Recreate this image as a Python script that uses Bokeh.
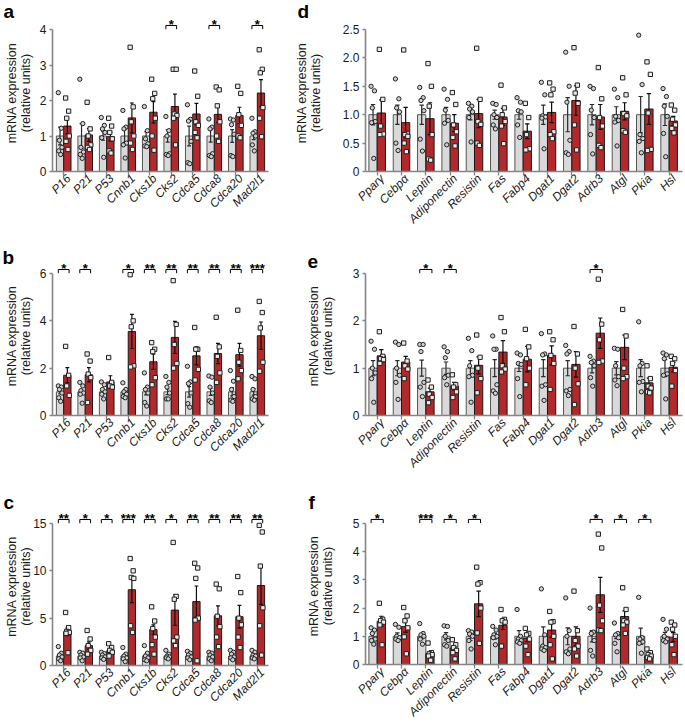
import math
from bokeh.plotting import figure
from bokeh.layouts import row, column
from bokeh.models import FixedTicker, Range1d, LinearAxis
from bokeh.core.properties import value
from bokeh.embed import file_html
from bokeh.resources import INLINE

FONT = "Liberation Sans"
GRAY_FILL = "#d9d9d9"
GRAY_LINE = "#555555"
RED_FILL = "#b3292b"
RED_LINE = "#1a1a1a"
AXIS_COL = "#858585"
TXT = "#1a1a1a"

# ---------------- data ----------------
cell_genes = ["P16", "P21", "P53", "Cnnb1", "Cks1b", "Cks2", "Cdca5", "Cdca8", "Cdca20", "Mad2l1"]
fat_genes = ["Pparγ", "Cebpα", "Leptin", "Adiponectin", "Resistin", "Fas", "Fabp4",
             "Dgat1", "Dgat2", "Adrb3", "Atgl", "Pkia", "Hsl"]

# panel a
a_yticks = [0, 1, 2, 3, 4]
a_ylabels = ["0", "1", "2", "3", "4"]
a_ctrl_mean = [1.00, 1.00, 1.00, 1.00, 1.00, 1.00, 1.00, 1.00, 1.00, 1.00]
a_ctrl_sem = [0.25, 0.35, 0.12, 0.18, 0.12, 0.17, 0.28, 0.17, 0.18, 0.10]
a_trt_mean = [1.28, 1.03, 0.98, 1.51, 1.67, 1.83, 1.62, 1.61, 1.58, 2.21]
a_trt_sem = [0.22, 0.18, 0.12, 0.42, 0.30, 0.35, 0.30, 0.23, 0.23, 0.38]
a_ctrl_pts = [[2.22, 1.22, 0.88, 0.68, 0.58, 0.48], [2.60, 1.35, 0.68, 0.55, 0.48, 0.37],
              [1.52, 1.30, 1.20, 1.10, 0.95, 0.40], [1.72, 1.25, 1.20, 0.80, 0.75, 0.38],
              [1.83, 1.15, 0.92, 0.78, 0.72, 0.70], [1.55, 1.15, 1.00, 0.50, 0.48, 0.45],
              [1.88, 1.47, 1.42, 0.85, 0.25, 0.22], [1.48, 1.25, 1.20, 0.50, 0.45, 0.42],
              [1.48, 1.45, 1.32, 1.05, 0.45, 0.42], [1.50, 1.12, 1.08, 1.00, 0.75, 0.58]]
a_trt_pts = [[2.07, 1.70, 1.50, 1.00, 0.85, 0.62], [1.95, 1.20, 1.00, 0.75, 0.68, 0.62],
             [1.50, 1.28, 1.10, 0.92, 0.58, 0.52], [3.50, 1.82, 1.40, 1.00, 0.80, 0.62],
             [2.60, 2.20, 2.05, 1.50, 1.00, 0.60], [2.88, 2.88, 1.62, 1.58, 1.50, 0.75],
             [2.83, 2.12, 1.40, 1.30, 1.10, 0.95], [2.38, 2.30, 1.85, 1.40, 1.00, 0.85],
             [2.40, 2.20, 1.60, 1.30, 1.00, 0.95], [3.43, 2.88, 2.78, 1.80, 1.50, 0.98]]
a_stars = ["", "", "", "", "", "*", "", "*", "", "*"]

# panel b
b_yticks = [0, 2, 4, 6]
b_ylabels = ["0", "2", "4", "6"]
b_ctrl_mean = [1.00, 1.00, 1.00, 1.00, 1.00, 1.00, 1.00, 1.00, 1.00, 1.00]
b_ctrl_sem = [0.08, 0.07, 0.06, 0.06, 0.13, 0.12, 0.22, 0.15, 0.17, 0.14]
b_trt_mean = [1.70, 1.72, 1.42, 3.55, 2.27, 3.30, 2.52, 2.62, 2.57, 3.37]
b_trt_sem = [0.32, 0.30, 0.26, 0.72, 0.32, 0.68, 0.38, 0.43, 0.48, 0.58]
b_ctrl_pts = [[1.25, 1.20, 1.10, 0.95, 0.75, 0.60], [1.40, 1.25, 1.05, 0.95, 0.90, 0.52],
              [1.42, 1.30, 1.10, 1.00, 0.90, 0.70], [1.38, 1.10, 1.00, 0.90, 0.80, 0.75],
              [1.80, 1.20, 1.10, 0.95, 0.55, 0.40], [1.65, 1.40, 1.20, 0.95, 0.70, 0.70],
              [2.08, 1.42, 1.35, 0.95, 0.50, 0.35], [1.67, 1.62, 1.20, 0.95, 0.62, 0.55],
              [1.90, 1.45, 1.10, 0.80, 0.65, 0.60], [1.65, 1.55, 1.10, 0.80, 0.70, 0.65]]
b_trt_pts = [[2.92, 1.70, 1.25, 0.85], [2.60, 2.30, 1.75, 1.60, 0.55],
             [2.45, 1.40, 1.25, 1.20], [5.95, 4.00, 3.75, 2.10, 2.05],
             [3.08, 2.80, 2.70, 1.60, 1.30], [5.70, 3.85, 3.00, 2.20, 2.00],
             [3.72, 2.80, 2.80, 1.95, 1.50], [4.15, 2.90, 2.50, 1.80, 1.40],
             [4.45, 2.75, 2.25, 1.90, 1.55], [4.82, 4.35, 3.70, 2.25, 1.87]]
b_stars = ["*", "*", "", "*", "**", "**", "**", "**", "**", "***"]

# panel c
c_yticks = [0, 5, 10, 15]
c_ylabels = ["0", "5", "10", "15"]
c_ctrl_mean = [1.00, 1.00, 1.00, 1.00, 1.00, 1.00, 1.00, 1.00, 1.00, 1.00]
c_ctrl_sem = [0.15, 0.12, 0.10, 0.15, 0.18, 0.10, 0.12, 0.12, 0.12, 0.10]
c_trt_mean = [3.55, 2.10, 1.55, 8.00, 3.80, 5.85, 6.75, 5.25, 5.15, 8.45]
c_trt_sem = [0.40, 0.40, 0.25, 1.35, 0.50, 1.60, 1.65, 1.05, 1.20, 2.00]
c_ctrl_pts = [[2.00, 1.30, 1.10, 0.90, 0.70, 0.50], [1.40, 1.30, 1.10, 0.90, 0.80, 0.50],
              [1.40, 1.25, 1.10, 0.90, 0.80, 0.65], [1.90, 1.20, 1.00, 0.80, 0.70, 0.40],
              [2.10, 1.30, 1.00, 0.80, 0.60, 0.50], [1.60, 1.20, 1.00, 0.90, 0.80, 0.70],
              [1.50, 1.30, 1.10, 0.90, 0.80, 0.60], [1.40, 1.30, 1.10, 0.90, 0.70, 0.50],
              [1.60, 1.40, 1.20, 0.90, 0.80, 0.60], [1.60, 1.40, 1.10, 1.00, 0.80, 0.70]]
c_trt_pts = [[5.60, 4.00, 3.60, 3.50, 3.40, 1.35], [3.70, 2.80, 2.10, 1.60, 1.20],
             [2.30, 1.90, 1.60, 1.40, 1.00], [11.30, 10.00, 9.30, 9.20, 4.20, 3.50],
             [6.20, 4.70, 3.90, 3.00, 2.20, 1.20], [13.00, 7.30, 7.00, 3.00, 2.60, 2.10],
             [10.80, 10.30, 9.20, 5.00, 4.80, 0.50], [8.60, 8.10, 5.20, 4.10, 3.00, 2.00],
             [9.40, 7.70, 5.00, 4.30, 3.00, 1.90], [14.80, 14.10, 10.50, 6.10, 4.20, 1.10]]
c_stars = ["**", "*", "*", "***", "**", "*", "**", "**", "**", "**"]

# panel d
d_yticks = [0, 0.5, 1.0, 1.5, 2.0, 2.5]
d_ylabels = ["0", "0.5", "1.0", "1.5", "2.0", "2.5"]
d_ctrl_mean = [1.00] * 13
d_ctrl_sem = [0.18, 0.17, 0.17, 0.13, 0.09, 0.08, 0.08, 0.17, 0.30, 0.18, 0.14, 0.32, 0.19]
d_trt_mean = [1.03, 0.86, 0.93, 0.85, 1.02, 0.96, 0.71, 1.04, 1.25, 0.96, 1.06, 1.10, 0.89]
d_trt_sem = [0.23, 0.27, 0.28, 0.15, 0.25, 0.15, 0.13, 0.18, 0.26, 0.22, 0.15, 0.27, 0.08]
d_ctrl_pts = [[1.50, 1.42, 1.12, 0.88, 0.86, 0.23], [1.63, 1.28, 1.12, 1.05, 0.50, 0.37],
              [1.48, 1.30, 1.25, 1.07, 0.57, 0.36], [1.45, 1.27, 1.08, 0.90, 0.85, 0.47],
              [1.20, 1.15, 1.10, 1.05, 0.95, 0.52], [1.20, 1.18, 1.00, 0.95, 0.82, 0.75],
              [1.30, 1.22, 1.07, 1.05, 0.82, 0.60], [1.57, 1.35, 0.98, 0.96, 0.94, 0.40],
              [2.10, 1.50, 1.22, 0.55, 0.33, 0.30], [1.50, 1.46, 1.08, 0.95, 0.65, 0.31],
              [1.45, 1.30, 0.97, 0.90, 0.87, 0.45], [2.40, 1.53, 0.65, 0.58, 0.53, 0.33],
              [1.46, 1.32, 1.15, 0.97, 0.67, 0.26]]
d_trt_pts = [[2.15, 1.27, 0.80, 0.66, 0.65], [2.14, 0.67, 0.65, 0.62, 0.50, 0.35],
             [1.90, 1.50, 1.15, 0.65, 0.22, 0.20], [1.39, 1.18, 0.82, 0.70, 0.60, 0.45],
             [2.17, 1.27, 0.88, 0.83, 0.50, 0.46], [1.52, 1.12, 1.00, 0.88, 0.80, 0.49],
             [1.20, 0.95, 0.65, 0.40, 0.38], [1.56, 1.45, 1.35, 0.70, 0.65, 0.58],
             [2.18, 1.52, 1.38, 1.20, 0.82, 0.38], [1.83, 1.28, 0.95, 0.80, 0.46, 0.42],
             [1.65, 1.35, 1.02, 0.98, 0.72, 0.69], [1.93, 1.71, 1.03, 0.39, 0.37],
             [1.17, 1.08, 0.92, 0.82, 0.76, 0.68]]
d_stars = [""] * 13

# panel e
e_yticks = [0, 1, 2, 3]
e_ylabels = ["0", "1", "2", "3"]
e_ctrl_mean = [1.00] * 13
e_ctrl_sem = [0.16, 0.16, 0.17, 0.13, 0.16, 0.18, 0.07, 0.18, 0.16, 0.10, 0.14, 0.18, 0.18]
e_trt_mean = [1.26, 1.13, 0.50, 0.62, 1.06, 1.34, 1.19, 1.27, 1.08, 1.74, 1.44, 0.69, 1.02]
e_trt_sem = [0.13, 0.12, 0.08, 0.08, 0.18, 0.24, 0.27, 0.20, 0.27, 0.32, 0.26, 0.10, 0.10]
e_ctrl_pts = [[1.57, 1.40, 1.00, 0.90, 0.78, 0.28], [1.55, 1.50, 1.00, 0.85, 0.70, 0.34],
              [1.50, 1.50, 1.35, 0.70, 0.60, 0.40], [1.45, 1.35, 1.22, 0.85, 0.80, 0.65],
              [1.63, 1.37, 1.05, 0.85, 0.82, 0.28], [1.68, 1.40, 1.40, 0.65, 0.52, 0.47],
              [1.32, 1.28, 1.10, 1.08, 0.78, 0.40], [1.73, 1.30, 1.28, 0.65, 0.62, 0.32],
              [1.48, 1.35, 1.30, 0.55, 0.52, 0.42], [1.25, 1.15, 1.12, 1.05, 0.80, 0.62],
              [1.42, 1.40, 1.05, 0.82, 0.75, 0.63], [1.98, 1.10, 1.05, 0.72, 0.70, 0.50],
              [1.32, 1.28, 1.20, 0.88, 0.85, 0.35]]
e_trt_pts = [[1.77, 1.25, 1.20, 1.18, 1.10], [1.53, 1.15, 1.05, 0.98, 0.78],
             [0.75, 0.60, 0.45, 0.38, 0.27], [0.86, 0.65, 0.60, 0.50, 0.38],
             [1.70, 1.23, 1.00, 0.78, 0.48], [2.07, 1.77, 1.05, 0.98, 0.92],
             [1.82, 1.45, 1.20, 1.00, 0.65], [1.77, 1.60, 1.27, 1.10, 0.55],
             [1.88, 1.30, 1.00, 0.67, 0.23], [2.88, 1.93, 1.60, 1.15, 1.12],
             [2.24, 1.68, 1.00, 0.82, 0.78], [1.05, 0.78, 0.62, 0.58, 0.50, 0.48],
             [1.25, 1.20, 1.10, 0.95, 0.62]]
e_stars = ["", "", "*", "*", "", "", "", "", "", "*", "", "", ""]

# panel f
f_yticks = [0, 1, 2, 3, 4, 5]
f_ylabels = ["0", "1", "2", "3", "4", "5"]
f_ctrl_mean = [1.00] * 13
f_ctrl_sem = [0.10, 0.12, 0.08, 0.13, 0.15, 0.10, 0.20, 0.33, 0.30, 0.20, 0.08, 0.29, 0.14]
f_trt_mean = [1.53, 1.35, 0.38, 0.58, 2.15, 1.39, 0.93, 1.22, 1.00, 2.47, 1.70, 0.30, 0.97]
f_trt_sem = [0.18, 0.20, 0.05, 0.07, 0.45, 0.15, 0.12, 0.25, 0.33, 0.62, 0.20, 0.05, 0.16]
f_ctrl_pts = [[1.30, 1.22, 1.10, 0.90, 0.85, 0.72], [1.42, 1.32, 1.00, 0.95, 0.90, 0.85],
              [1.45, 1.10, 1.05, 1.00, 0.90, 0.72], [1.37, 1.35, 1.00, 0.85, 0.70, 0.65],
              [1.20, 1.15, 1.08, 1.00, 0.85, 0.55], [1.35, 1.22, 1.05, 1.00, 0.95, 0.70],
              [1.95, 1.00, 0.90, 0.85, 0.80, 0.75], [2.68, 1.05, 0.65, 0.60, 0.55, 0.50],
              [2.36, 1.20, 1.00, 0.55, 0.45, 0.38], [2.00, 1.15, 1.10, 0.85, 0.50, 0.30],
              [1.47, 1.10, 1.05, 0.95, 0.75, 0.45], [2.38, 0.95, 0.90, 0.80, 0.75, 0.40],
              [1.60, 1.25, 1.00, 0.90, 0.85, 0.80]]
f_trt_pts = [[2.17, 1.60, 1.55, 1.50, 1.40, 0.70], [2.02, 1.72, 1.55, 1.30, 0.98, 0.38],
             [0.76, 0.42, 0.38, 0.35, 0.30, 0.15], [0.88, 0.70, 0.60, 0.50, 0.42, 0.20],
             [3.45, 2.90, 2.85, 2.00, 1.12, 0.75], [1.95, 1.60, 1.55, 1.50, 0.65],
             [1.28, 1.10, 1.05, 0.90, 0.65, 0.35], [1.88, 1.52, 1.50, 1.00, 0.70, 0.20],
             [2.60, 1.20, 0.85, 0.65, 0.55, 0.30], [4.62, 4.13, 2.10, 1.55, 1.22, 1.20],
             [2.72, 1.95, 1.55, 1.50, 1.40, 1.10], [0.55, 0.42, 0.35, 0.30, 0.25, 0.20],
             [1.50, 1.40, 1.25, 1.00, 0.70, 0.35]]
f_stars = ["*", "", "***", "*", "*", "", "", "", "", "*", "*", "*", ""]

# ---------------- drawing ----------------
AXIS_PX = 142          # pixel height of the drawn y axis (0 .. top tick)
HALF = 0.17            # half distance between bar centres
BW = 0.34              # bar width
CAP = 0.09             # error-bar cap half width
LABEL_SHIFT_PX = 5     # gene labels sit a little right of their tick
JIT = [-0.08, 0.06, -0.03, 0.09, -0.06, 0.03, 0.0]


def build(letter, genes, cmean, csem, cpts, tmean, tsem, tpts, stars, yticks, ylabels,
          width, bl, br, xr, rowg, ylab_standoff, letter_off):
    fig_top, fig_bot, frame_top, zero_y, letter_so = rowg
    height = fig_bot - fig_top
    bt = frame_top - fig_top
    bb = fig_bot - zero_y
    n = len(genes)
    top = yticks[-1]
    ppu = AXIS_PX / top
    xppu = (width - bl - br) / (xr[1] - xr[0])
    p = figure(width=width, height=height, output_backend="svg", toolbar_location=None,
               x_range=Range1d(*xr), y_range=Range1d(0, (zero_y - frame_top) / ppu),
               min_border_left=bl, min_border_right=br, min_border_top=bt, min_border_bottom=bb)
    p.outline_line_color = None
    p.grid.visible = False
    p.background_fill_color = "white"
    p.border_fill_color = "white"

    # panel letter as the figure title
    p.title.text = letter
    p.title.align = "left"
    p.title.vertical_align = "bottom"
    p.title.offset = letter_off
    p.title.standoff = letter_so
    p.title.text_font = FONT
    p.title.text_font_size = "19px"
    p.title.text_font_style = "bold"
    p.title.text_color = "black"

    idx = list(range(n))
    xc = [i - HALF for i in idx]
    xt = [i + HALF for i in idx]
    p.vbar(x=xc, top=cmean, width=BW, bottom=0, fill_color=GRAY_FILL,
           line_color=GRAY_LINE, line_width=1)
    p.vbar(x=xt, top=tmean, width=BW, bottom=0, fill_color=RED_FILL,
           line_color=RED_LINE, line_width=1)

    for xs, m, s, col in ((xc, cmean, csem, "#2a2a2a"), (xt, tmean, tsem, "#0d0d0d")):
        lo = [a - b for a, b in zip(m, s)]
        hi = [a + b for a, b in zip(m, s)]
        p.segment(x0=xs, y0=lo, x1=xs, y1=hi, line_color=col, line_width=1.2)
        p.segment(x0=[x - CAP for x in xs], y0=hi, x1=[x + CAP for x in xs], y1=hi,
                  line_color=col, line_width=1.2)
        p.segment(x0=[x - CAP for x in xs], y0=lo, x1=[x + CAP for x in xs], y1=lo,
                  line_color=col, line_width=1.2)

    for pts, xs, marker, fill in ((cpts, xc, "circle", "#cfcfcf"), (tpts, xt, "square", "#ebebeb")):
        px, py = [], []
        for i, vals in enumerate(pts):
            for j, v in enumerate(vals):
                px.append(xs[i] + JIT[j % len(JIT)])
                py.append(v)
        p.scatter(px, py, marker=marker, size=4.3, fill_color=fill,
                  line_color="#1f1f1f", line_width=1.0)

    # significance brackets
    bx0, bx1, by0, by1, sx, sy, st = [], [], [], [], [], [], []
    yb = top + 4.0 / ppu
    yl = top + 0.3 / ppu
    for i, s in enumerate(stars):
        if s:
            for (a0, b0, a1, b1) in ((i - 0.25, yb, i + 0.25, yb), (i - 0.25, yb, i - 0.25, yl),
                                     (i + 0.25, yb, i + 0.25, yl)):
                bx0.append(a0)
                bx1.append(a1)
                by0.append(b0)
                by1.append(b1)
            sx.append(i)
            sy.append(yb + 1.0 / ppu)
            st.append(s)
    if sx:
        p.segment(x0=bx0, y0=by0, x1=bx1, y1=by1, line_color="black", line_width=1)
        p.text(x=sx, y=sy, text=st, text_align="center", text_baseline="alphabetic",
               text_font=value(FONT), text_font_size="13px", text_font_style="bold",
               text_color="black")

    # x axis: line + ticks (no labels)
    xa = p.xaxis[0]
    xa.ticker = FixedTicker(ticks=idx)
    xa.major_label_overrides = {i: "" for i in idx}
    xa.major_label_text_font_size = "1px"
    xa.major_label_standoff = 0
    xa.major_tick_out = 4
    xa.major_tick_in = 0
    xa.minor_tick_line_color = None
    xa.axis_line_color = AXIS_COL
    xa.axis_line_width = 1.6
    xa.major_tick_line_color = AXIS_COL
    xa.major_tick_line_width = 1.3

    # gene labels on a second, line-less axis just below
    dx = LABEL_SHIFT_PX / xppu
    lticks = [i + dx for i in idx]
    la = LinearAxis(ticker=FixedTicker(ticks=lticks),
                    major_label_overrides={t: g for t, g in zip(lticks, genes)})
    la.major_label_orientation = math.pi / 4
    la.major_label_text_font = FONT
    la.major_label_text_font_style = "italic"
    la.major_label_text_font_size = "12px"
    la.major_label_text_color = TXT
    la.major_label_standoff = 1
    la.major_tick_out = 0
    la.major_tick_in = 0
    la.major_tick_line_color = None
    la.minor_tick_line_color = None
    la.axis_line_color = None
    p.add_layout(la, "below")

    ya = p.yaxis[0]
    ya.ticker = FixedTicker(ticks=yticks)
    ya.major_label_overrides = dict(zip(yticks, ylabels))
    ya.bounds = (0, top)
    ya.axis_label = "mRNA expression\n(relative units)"
    ya.axis_label_text_font = FONT
    ya.axis_label_text_font_style = "normal"
    ya.axis_label_text_font_size = "12.5px"
    ya.axis_label_text_color = TXT
    ya.axis_label_text_line_height = 1.0
    ya.axis_label_standoff = ylab_standoff
    ya.major_label_text_font = FONT
    ya.major_label_text_font_size = "12px"
    ya.major_label_text_color = TXT
    ya.major_label_standoff = 3
    ya.major_tick_out = 3
    ya.major_tick_in = 0
    ya.minor_tick_line_color = None
    ya.axis_line_color = AXIS_COL
    ya.axis_line_width = 1.6
    ya.major_tick_line_color = AXIS_COL
    ya.major_tick_line_width = 1.3
    return p


# column geometry: (figure width, left border, right border, x range)
LEFT = (290, 52, 22, (-0.52, 9.52))
RIGHT = (394, 75, 2, (-0.48, 12.55))
# row geometry: (figure top, figure bottom, frame top, y=0 line, title standoff)
ROW1 = (0, 239, 14, 171, -14)
ROW2 = (239, 480, 256, 415, -22)
ROW3 = (480, 726, 507, 665, -10)

pa = build("a", cell_genes, a_ctrl_mean, a_ctrl_sem, a_ctrl_pts, a_trt_mean, a_trt_sem, a_trt_pts,
           a_stars, a_yticks, a_ylabels, *LEFT, ROW1, 4, -49)
pb = build("b", cell_genes, b_ctrl_mean, b_ctrl_sem, b_ctrl_pts, b_trt_mean, b_trt_sem, b_trt_pts,
           b_stars, b_yticks, b_ylabels, *LEFT, ROW2, 4, -50)
pc = build("c", cell_genes, c_ctrl_mean, c_ctrl_sem, c_ctrl_pts, c_trt_mean, c_trt_sem, c_trt_pts,
           c_stars, c_yticks, c_ylabels, *LEFT, ROW3, -3, -49)
pd_ = build("d", fat_genes, d_ctrl_mean, d_ctrl_sem, d_ctrl_pts, d_trt_mean, d_trt_sem, d_trt_pts,
            d_stars, d_yticks, d_ylabels, *RIGHT, ROW1, 17, -68)
pe = build("e", fat_genes, e_ctrl_mean, e_ctrl_sem, e_ctrl_pts, e_trt_mean, e_trt_sem, e_trt_pts,
           e_stars, e_yticks, e_ylabels, *RIGHT, ROW2, 15, -58)
pf = build("f", fat_genes, f_ctrl_mean, f_ctrl_sem, f_ctrl_pts, f_trt_mean, f_trt_sem, f_trt_pts,
           f_stars, f_yticks, f_ylabels, *RIGHT, ROW3, 15, -57)

layout = row(column(pa, pb, pc), column(pd_, pe, pf))
open("out.html", "w").write(file_html(layout, INLINE))
